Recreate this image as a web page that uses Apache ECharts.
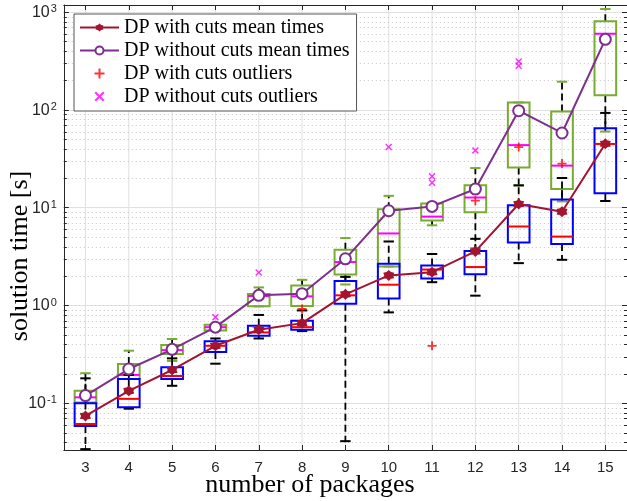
<!DOCTYPE html>
<html><head><meta charset="utf-8">
<script src="https://cdn.jsdelivr.net/npm/echarts@6/dist/echarts.min.js"></script>
<style>html,body{margin:0;padding:0;background:#fff}#c{width:627px;height:501px}</style>
</head><body><div id="c"></div>
<script>
// ---------- data ----------
const categories = ['3','4','5','6','7','8','9','10','11','12','13','14','15'];

// box stats per category: [lower whisker, q1, median, q3, upper whisker]
const withCutsBox = [
  [0.034, 0.0586, 0.0614, 0.100, 0.180],
  [0.088, 0.091, 0.111, 0.177, 0.195],
  [0.151, 0.177, 0.190, 0.234, 0.288],
  [0.254, 0.334, 0.387, 0.430, 0.460],
  [0.460, 0.490, 0.530, 0.620, 0.800],
  [0.547, 0.565, 0.600, 0.700, 0.890],
  [0.041, 1.04, 1.27, 1.78, 1.96],
  [0.85, 1.18, 1.63, 2.67, 4.51],
  [1.73, 1.89, 2.33, 2.56, 3.36],
  [1.26, 2.09, 2.47, 3.60, 4.80],
  [2.71, 4.40, 6.42, 10.6, 16.9],
  [2.93, 4.25, 5.06, 12.1, 20.1],
  [11.7, 14.0, 44.8, 65.0, 93.0]
];
const withoutCutsBox = [
  [0.078, 0.102, 0.115, 0.134, 0.203],
  [0.137, 0.177, 0.195, 0.252, 0.345],
  [0.271, 0.319, 0.350, 0.394, 0.454],
  [0.555, 0.555, 0.600, 0.635, 0.640],
  [0.98, 0.98, 1.25, 1.31, 1.53],
  [0.99, 0.99, 1.24, 1.60, 1.83],
  [1.64, 2.07, 2.78, 3.71, 4.89],
  [2.50, 2.50, 5.45, 9.66, 13.2],
  [6.6, 7.4, 8.1, 11.0, 11.0],
  [3.86, 9.0, 12.7, 16.9, 25.4],
  [16.9, 25.8, 43.6, 119, 119],
  [11.6, 15.5, 26.9, 96, 194],
  [60, 141, 600, 803, 1073]
];
const withCutsMean = [0.0742, 0.134, 0.219, 0.387, 0.565, 0.66, 1.30, 2.03, 2.19, 3.57, 10.9, 9.1, 45];
const withoutCutsMean = [0.12, 0.224, 0.356, 0.60, 1.27, 1.32, 3.0, 9.3, 10.3, 15.5, 98, 58, 526];
const withCutsOutliers = [['8', 0.92], ['11', 0.387], ['12', 11.8], ['13', 41.6], ['14', 28.2]];
const withoutCutsOutliers = [['6', 0.76], ['7', 2.17], ['10', 41.7], ['11', 20.9], ['11', 18.0], ['12', 38.5], ['13', 312], ['13', 282]];

const seriesNames = ['DP with cuts mean times', 'DP without cuts mean times', 'DP with cuts outliers', 'DP without cuts outliers'];
const xTitle = 'number of packages';
const yTitle = 'solution time [s]';
const Y_MIN = 0.0333, Y_MAX = 1180;

// ---------- helpers ----------
const minorValues = [];
for (let k = -2; k <= 3; k++) for (let m = 2; m <= 9; m++) {
  const v = m * Math.pow(10, k);
  if (v > Y_MIN && v < Y_MAX) minorValues.push(v);
}
function starPath() {
  let d = '';
  for (let k = 0; k < 12; k++) {
    const a = (-90 + k * 30) * Math.PI / 180, r = k % 2 ? 7 : 10;
    d += (k ? 'L' : 'M') + (10 + r * Math.cos(a)).toFixed(2) + ',' + (10 + r * Math.sin(a)).toFixed(2);
  }
  return 'path://' + d + 'Z';
}
const plusPath = 'path://M4,0H6V4H10V6H6V10H4V6H0V4H4Z';
const crossPath = 'path://M0,1.5L1.5,0L5,3.5L8.5,0L10,1.5L6.5,5L10,8.5L8.5,10L5,6.5L1.5,10L0,8.5L3.5,5Z';

function makeBoxRenderer(boxColor, medColor, capColor) {
  return function (params, api) {
    const i = api.value(0);
    const c = v => api.coord([i, v]);
    const lc = c(api.value(1)), q1 = c(api.value(2)), md = c(api.value(3)), q3 = c(api.value(4)), hc = c(api.value(5));
    const band = params.coordSys.width / categories.length;
    const cx = q1[0], bw = band * 0.5, cw = band * 0.24;
    const dash = { stroke: '#000', lineWidth: 1.8, lineDash: [7, 4], fill: null };
    const ch = [];
    if (lc[1] - q1[1] > 0.5) ch.push({ type: 'line', shape: { x1: cx, y1: q1[1], x2: cx, y2: lc[1] }, style: dash });
    if (q3[1] - hc[1] > 0.5) ch.push({ type: 'line', shape: { x1: cx, y1: q3[1], x2: cx, y2: hc[1] }, style: dash });
    ch.push({ type: 'line', shape: { x1: cx - cw / 2, y1: lc[1], x2: cx + cw / 2, y2: lc[1] }, style: { stroke: capColor, lineWidth: 2 } });
    ch.push({ type: 'line', shape: { x1: cx - cw / 2, y1: hc[1], x2: cx + cw / 2, y2: hc[1] }, style: { stroke: capColor, lineWidth: 2 } });
    ch.push({ type: 'rect', shape: { x: cx - bw / 2, y: q3[1], width: bw, height: q1[1] - q3[1] }, style: { stroke: boxColor, fill: null, lineWidth: 2 } });
    ch.push({ type: 'line', shape: { x1: cx - bw / 2, y1: md[1], x2: cx + bw / 2, y2: md[1] }, style: { stroke: medColor, lineWidth: 2 } });
    return { type: 'group', children: ch };
  };
}

const chart = echarts.init(document.getElementById('c'), null, { renderer: 'canvas' });
const axisColor = '#262626';
const xAxisBase = {
  type: 'category', data: categories, boundaryGap: true,
  axisLine: { show: true, onZero: false, lineStyle: { color: axisColor, width: 1 } },
  axisTick: { show: true, inside: true, alignWithLabel: true, length: 5, lineStyle: { color: axisColor } },
  splitLine: { show: false }
};
const yAxisBase = {
  type: 'log', logBase: 10, min: Y_MIN, max: Y_MAX,
  axisLine: { show: true, lineStyle: { color: axisColor, width: 1 } },
  axisTick: { show: true, inside: true, length: 5, lineStyle: { color: axisColor } }
};

chart.setOption({
  animation: false,
  backgroundColor: '#fff',
  grid: { left: 63.8, top: 5, width: 564, height: 445, containLabel: false },
  xAxis: [
    Object.assign({}, xAxisBase, { position: 'bottom',
      axisLabel: { show: true, color: axisColor, fontSize: 15, fontFamily: 'Liberation Sans', margin: 10 } }),
    Object.assign({}, xAxisBase, { position: 'top', axisLabel: { show: false } })
  ],
  yAxis: [
    Object.assign({}, yAxisBase, { position: 'left',
      splitLine: { show: true, lineStyle: { color: '#e0e0e0', width: 1 } },
      axisLabel: {
        show: true, margin: 7, showMinLabel: false, showMaxLabel: false,
        formatter: v => { const e = Math.log10(v), r = Math.round(e); return Math.abs(e - r) > 1e-6 ? '' : '{b|10}{s|' + r + '}'; },
        rich: {
          b: { fontSize: 16, fontFamily: 'Liberation Sans', color: axisColor, verticalAlign: 'bottom' },
          s: { fontSize: 11, fontFamily: 'Liberation Sans', color: axisColor, verticalAlign: 'top', padding: [0, 0, 6, 1] }
        }
      } }),
    Object.assign({}, yAxisBase, { position: 'right', splitLine: { show: false }, axisLabel: { show: false } })
  ],
  legend: {
    orient: 'vertical', left: 74, top: 14,
    data: seriesNames,
    itemWidth: 39, itemHeight: 10, itemGap: 2,
    padding: [3, 7, 4, 5],
    backgroundColor: '#fff', borderColor: '#555', borderWidth: 1, borderRadius: 0,
    textStyle: { fontFamily: 'Liberation Serif', fontSize: 20, color: '#000', lineHeight: 21 }
  },
  graphic: [
    { type: 'text', x: 310, y: 485, silent: true,
      style: { text: xTitle, font: '26px "Liberation Serif"', fill: '#000', textAlign: 'center', textVerticalAlign: 'middle', verticalAlign: 'middle' } },
    { type: 'text', x: 20, y: 256, rotation: Math.PI / 2, silent: true,
      style: { text: yTitle, font: '26px "Liberation Serif"', fill: '#000', textAlign: 'center', textVerticalAlign: 'middle', verticalAlign: 'middle' } }
  ],
  series: [
    { type: 'custom', name: 'vgrid', silent: true, z: 0, clip: true,
      data: categories.map((c, i) => [i, 1]),
      renderItem: (params, api) => {
        const x = api.coord([api.value(0), 1])[0], cs = params.coordSys;
        return { type: 'line', shape: { x1: x, y1: cs.y, x2: x, y2: cs.y + cs.height }, style: { stroke: '#e0e0e0', lineWidth: 1 } };
      } },
    { type: 'custom', name: 'minor', silent: true, z: 0,
      data: minorValues.map(v => [0, v]),
      renderItem: (params, api) => {
        const y = Math.round(api.coord([0, api.value(1)])[1]) + 0.5, cs = params.coordSys;
        return { type: 'group', children: [
          { type: 'line', shape: { x1: cs.x, y1: y, x2: cs.x + cs.width, y2: y }, style: { stroke: '#c4c4c4', lineWidth: 1, lineDash: [1, 3] } },
          { type: 'line', shape: { x1: cs.x, y1: y, x2: cs.x + 3, y2: y }, style: { stroke: axisColor, lineWidth: 1 } },
          { type: 'line', shape: { x1: cs.x + cs.width - 3, y1: y, x2: cs.x + cs.width, y2: y }, style: { stroke: axisColor, lineWidth: 1 } }
        ] };
      } },
    { type: 'custom', name: 'withoutBoxes', z: 2, encode: { x: 0, y: [1, 2, 3, 4, 5] },
      data: withoutCutsBox.map((r, i) => [i].concat(r)),
      renderItem: makeBoxRenderer('#77AC30', '#FF00FF', '#77AC30') },
    { type: 'custom', name: 'withBoxes', z: 3, encode: { x: 0, y: [1, 2, 3, 4, 5] },
      data: withCutsBox.map((r, i) => [i].concat(r)),
      renderItem: makeBoxRenderer('#0000FF', '#FF0000', '#000000') },
    { type: 'line', name: seriesNames[0], z: 4, data: withCutsMean,
      symbol: starPath(), symbolSize: 11, showAllSymbol: true,
      lineStyle: { color: '#A2142F', width: 2 }, itemStyle: { color: '#A2142F' } },
    { type: 'line', name: seriesNames[1], z: 4, data: withoutCutsMean,
      symbol: 'emptyCircle', symbolSize: 11, showAllSymbol: true,
      lineStyle: { color: '#7E2F8E', width: 2 }, itemStyle: { color: '#7E2F8E', borderWidth: 1.8 } },
    { type: 'scatter', name: seriesNames[2], z: 5, data: withCutsOutliers,
      symbol: plusPath, symbolSize: 9, itemStyle: { color: '#FF0000' } },
    { type: 'scatter', name: seriesNames[3], z: 5, data: withoutCutsOutliers,
      symbol: crossPath, symbolSize: 7, itemStyle: { color: '#FF00FF' } }
  ]
});
</script></body></html>
